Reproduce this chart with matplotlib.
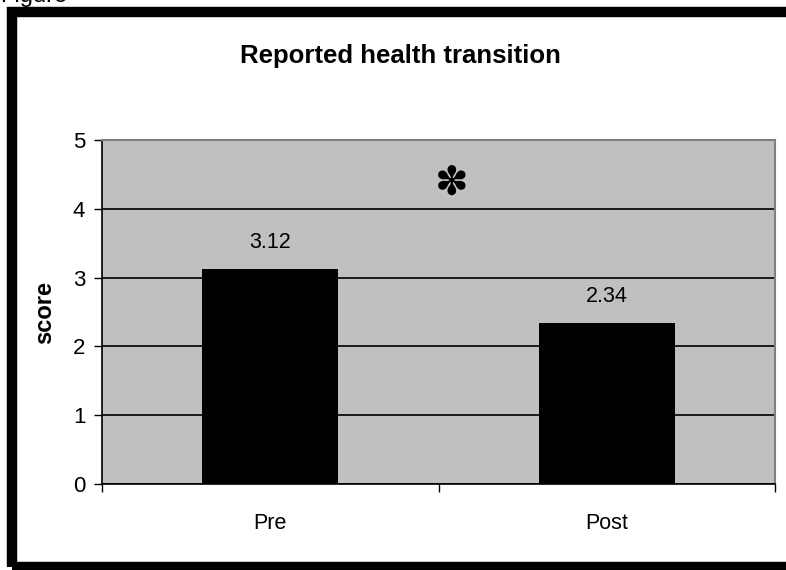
import matplotlib.pyplot as plt
from matplotlib.patches import Rectangle

categories = ["Pre", "Post"]
scores = [3.12, 2.34]
value_labels = ["3.12", "2.34"]
title = "Reported health transition"
y_label = "score"

plt.rcParams['font.family'] = ['Liberation Sans', 'DejaVu Sans']

fig = plt.figure(figsize=(7.86, 5.7), dpi=100)
ax = fig.add_axes([102 / 786, 86 / 570, 673 / 786, 344 / 570])

ax.set_facecolor('#c0c0c0')
x = list(range(len(categories)))
ax.bar(x, scores, width=0.405, color='black', zorder=3)

for xi, v, lab in zip(x, scores, value_labels):
    ax.annotate(lab, (xi, v), xytext=(0, 19), textcoords='offset points',
                ha='center', va='center', fontsize=15.5)

# significance marker
ax.text(0.54, 4.37, "\u273d", ha='center', va='center', fontsize=29,
        family=['DejaVu Sans'], zorder=4)

ax.set_xlim(-0.5, len(categories) - 0.5)
ax.set_ylim(0, 5)
ax.set_yticks(range(0, 6))
ax.tick_params(axis='y', labelsize=16, direction='out', length=6, width=1, pad=6)
ax.yaxis.grid(True, color='black', linewidth=1.2, zorder=1)
ax.set_axisbelow(True)

# ticks on category boundaries, labels at centres
ax.set_xticks([i - 0.5 for i in range(len(categories) + 1)])
ax.set_xticklabels([])
ax.set_xticks(x, minor=True)
ax.set_xticklabels(categories, minor=True)
ax.tick_params(axis='x', which='major', direction='out', length=6, width=1)
ax.tick_params(axis='x', which='minor', length=0, labelsize=15.5, pad=21)

for s in ['left', 'bottom']:
    ax.spines[s].set_color('black')
    ax.spines[s].set_linewidth(1.2)
for s in ['top', 'right']:
    ax.spines[s].set_color('#808080')
    ax.spines[s].set_linewidth(1.5)

ax.set_ylabel(y_label, fontsize=17, fontweight='bold', labelpad=12)
fig.text(0.51, 1 - 56 / 570, title, ha='center', va='center',
         fontsize=18.5, fontweight='bold')

# caption fragment cut at the top edge
fig.text(0.0, 1 - 2 / 570, "Figure", ha='left', va='baseline', fontsize=17)

# thick frame around the chart
fig.patches.append(Rectangle((11.5 / 786, 1 - 567 / 570), 790 / 786, 555 / 570,
                             transform=fig.transFigure, fill=False,
                             edgecolor='black', linewidth=7.5))

fig.savefig('out.png', dpi=100)
